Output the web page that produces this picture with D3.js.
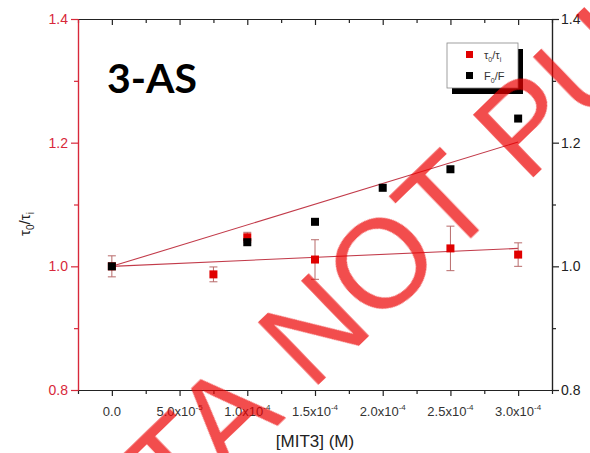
<!DOCTYPE html>
<html>
<head>
<meta charset="utf-8">
<script src="https://cdn.jsdelivr.net/npm/d3@7"></script>
<style>
  body { margin: 0; background: #fff; }
  svg { display: block; font-family: "Liberation Sans", Arial, sans-serif; }
</style>
</head>
<body>
<svg id="chart" width="590" height="453"></svg>
<script>
// tau0/tau_i points with error bars
const tauConc = [0, 7.5e-5, 1.0e-4, 1.5e-4, 2.5e-4, 3.0e-4];
const tauRatio = [1.0, 0.987, 1.047, 1.011, 1.029, 1.019];
const tauErr = [0.017, 0.012, 0.008, 0.032, 0.036, 0.019];

// F0/F points
const fConc = [0, 1.0e-4, 1.5e-4, 2.0e-4, 2.5e-4, 3.0e-4];
const fRatio = [1.0, 1.039, 1.072, 1.127, 1.157, 1.239];

// linear fits, drawn from first to last concentration
const fitConc = [0, 3.0e-4];
const fitTau = [1.0, 1.029];
const fitF = [1.0, 1.201];

const xTicks = [0, 5e-5, 1e-4, 1.5e-4, 2e-4, 2.5e-4, 3e-4];
const xTickMant = ["0.0", "5.0x10", "1.0x10", "1.5x10", "2.0x10", "2.5x10", "3.0x10"];
const xTickExp = ["", "-5", "-4", "-4", "-4", "-4", "-4"];
const xMinor = [-2.5e-5, 2.5e-5, 7.5e-5, 1.25e-4, 1.75e-4, 2.25e-4, 2.75e-4, 3.25e-4];
const yTicks = [0.8, 1.0, 1.2, 1.4];
const yTickLabels = ["0.8", "1.0", "1.2", "1.4"];
const yMinor = [0.9, 1.1, 1.3];

const red = "#d8283a";
const svg = d3.select("#chart");

const x = d3.scaleLinear().domain([-2.5e-5, 3.25e-4]).range([78, 552]);
const y = d3.scaleLinear().domain([0.8, 1.4]).range([390, 19]);

// axes
function drawAxis(axis, tx, ty, color) {
  const g = svg.append("g").attr("transform", `translate(${tx},${ty})`).call(axis);
  g.selectAll("path,line").attr("stroke", color).attr("stroke-width", 1.2);
  g.selectAll("text").remove();
  return g;
}

drawAxis(d3.axisBottom(x).tickValues(xTicks).tickSize(6).tickSizeOuter(0), 0, 390, "#222");
drawAxis(d3.axisBottom(x).tickValues(xMinor).tickSize(4).tickSizeOuter(0), 0, 390, "#222");
drawAxis(d3.axisBottom(x).tickValues(xTicks).tickSize(6).tickSizeOuter(0), 0, 19, "#222");
drawAxis(d3.axisBottom(x).tickValues(xMinor).tickSize(4).tickSizeOuter(0), 0, 19, "#222");
drawAxis(d3.axisLeft(y).tickValues(yTicks).tickSize(7).tickSizeOuter(0), 78, 0, red);
drawAxis(d3.axisLeft(y).tickValues(yMinor).tickSize(4).tickSizeOuter(0), 78, 0, red);
drawAxis(d3.axisRight(y).tickValues(yTicks).tickSize(7).tickSizeOuter(0), 552, 0, "#222");
drawAxis(d3.axisRight(y).tickValues(yMinor).tickSize(4).tickSizeOuter(0), 552, 0, "#222");

// x tick labels with superscript exponents
xTicks.forEach((v, i) => {
  const t = svg.append("text")
    .attr("x", x(v)).attr("y", 416)
    .attr("text-anchor", "middle")
    .attr("font-size", 13).attr("fill", "#333");
  t.append("tspan").text(xTickMant[i]);
  if (xTickExp[i]) {
    t.append("tspan").attr("dy", -6).attr("font-size", 8).text(xTickExp[i]);
  }
});

// y tick labels, left red and right black
yTicks.forEach((v, i) => {
  svg.append("text").attr("x", 68).attr("y", y(v) + 5)
    .attr("text-anchor", "end").attr("font-size", 14).attr("fill", red)
    .text(yTickLabels[i]);
  svg.append("text").attr("x", 561).attr("y", y(v) + 5)
    .attr("font-size", 14).attr("fill", "#222")
    .text(yTickLabels[i]);
});

// axis titles
svg.append("text").attr("x", 315).attr("y", 447)
  .attr("text-anchor", "middle").attr("font-size", 17).attr("fill", "#222")
  .text("[MIT3] (M)");

const yt = svg.append("text")
  .attr("transform", "translate(30,224) rotate(-90)")
  .attr("text-anchor", "middle").attr("font-size", 15).attr("fill", "#222");
yt.append("tspan").text("τ");
yt.append("tspan").attr("dy", 4).attr("font-size", 10).text("0");
yt.append("tspan").attr("dy", -4).text("/τ");
yt.append("tspan").attr("dy", 4).attr("font-size", 10).text("i");

// fit lines
const line = d3.line().x(d => x(d[0])).y(d => y(d[1]));
[fitTau, fitF].forEach(fit => {
  svg.append("path")
    .attr("d", line(fitConc.map((c, i) => [c, fit[i]])))
    .attr("fill", "none").attr("stroke", "#c23b4a").attr("stroke-width", 1.1);
});

// error bars
const eb = svg.append("g").attr("stroke", "#b86a6a").attr("stroke-width", 1);
tauConc.forEach((c, i) => {
  const cx = x(c), y1 = y(tauRatio[i] + tauErr[i]), y2 = y(tauRatio[i] - tauErr[i]);
  eb.append("line").attr("x1", cx).attr("x2", cx).attr("y1", y1).attr("y2", y2);
  eb.append("line").attr("x1", cx - 4).attr("x2", cx + 4).attr("y1", y1).attr("y2", y1);
  eb.append("line").attr("x1", cx - 4).attr("x2", cx + 4).attr("y1", y2).attr("y2", y2);
});

// markers
const ms = 8;
svg.append("g").selectAll("rect").data(tauConc).join("rect")
  .attr("x", d => x(d) - ms / 2).attr("y", (d, i) => y(tauRatio[i]) - ms / 2)
  .attr("width", ms).attr("height", ms).attr("fill", "#e00000");
svg.append("g").selectAll("rect").data(fConc).join("rect")
  .attr("x", d => x(d) - ms / 2).attr("y", (d, i) => y(fRatio[i]) - ms / 2)
  .attr("width", ms).attr("height", ms).attr("fill", "#000");

// sample label
svg.append("text").attr("x", 107).attr("y", 93)
  .attr("font-family", "Lato, 'Open Sans', sans-serif")
  .attr("font-weight", "bold").attr("font-size", 41).attr("fill", "#000")
  .text("3-AS");

// legend with drop shadow
svg.append("rect").attr("x", 452).attr("y", 49).attr("width", 71).attr("height", 45).attr("fill", "#000");
svg.append("rect").attr("x", 447).attr("y", 43).attr("width", 71).attr("height", 45)
  .attr("fill", "#fff").attr("stroke", "#888").attr("stroke-width", 0.8);
svg.append("rect").attr("x", 466).attr("y", 51).attr("width", 7).attr("height", 7).attr("fill", "#e00000");
svg.append("rect").attr("x", 466).attr("y", 72).attr("width", 7).attr("height", 7).attr("fill", "#000");
const l1 = svg.append("text").attr("x", 484).attr("y", 59).attr("font-size", 11).attr("fill", "#333");
l1.append("tspan").text("τ");
l1.append("tspan").attr("dy", 3).attr("font-size", 7).text("0");
l1.append("tspan").attr("dy", -3).text("/τ");
l1.append("tspan").attr("dy", 3).attr("font-size", 7).text("i");
const l2 = svg.append("text").attr("x", 484).attr("y", 80).attr("font-size", 11).attr("fill", "#333");
l2.append("tspan").text("F");
l2.append("tspan").attr("dy", 3).attr("font-size", 7).text("0");
l2.append("tspan").attr("dy", -3).text("/F");

// watermark, split at the space so the "N" lands where it does in the picture
const wm = svg.append("g")
  .attr("font-family", "'Liberation Sans', Arial, sans-serif")
  .attr("font-size", 126).attr("fill", "rgb(236,0,0)").attr("opacity", 0.7);
wm.append("text").attr("transform", "translate(311,392) rotate(-44)").text("NOT PUBLISHED");
wm.append("text").attr("transform", "translate(286,417) rotate(-44)")
  .attr("text-anchor", "end").text("DATA");
</script>
</body>
</html>
